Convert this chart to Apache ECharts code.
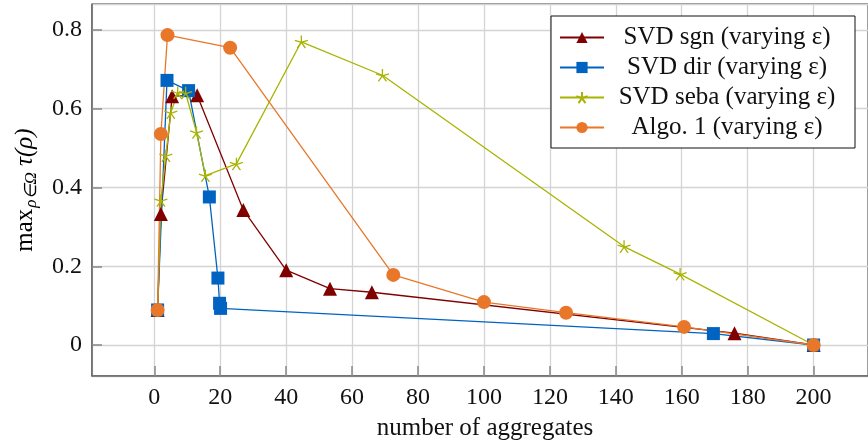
<!DOCTYPE html>
<html>
<head>
<meta charset="utf-8">
<script src="https://cdn.jsdelivr.net/npm/echarts@6/dist/echarts.min.js"></script>
<style>
  html, body { margin: 0; padding: 0; background: #fff; }
  #main { width: 868px; height: 441px; }
</style>
</head>
<body>
<div id="main"></div>
<script>
// values: [number of aggregates, max tau]
var sgnPoints = [[1, 0.089], [2, 0.333], [5.4, 0.632], [13, 0.634], [27, 0.343], [40, 0.19], [53.3, 0.143], [66, 0.134], [176, 0.03], [200, 0]];
var dirPoints = [[1, 0.089], [3.85, 0.672], [10.4, 0.646], [16.7, 0.376], [19.3, 0.17], [19.8, 0.106], [20.1, 0.093], [169.6, 0.029], [200, 0]];
var sebaPoints = [[1, 0.089], [2, 0.367], [3.5, 0.481], [5, 0.59], [7.1, 0.641], [9.5, 0.64], [12.8, 0.54], [15.5, 0.43], [24.9, 0.46], [44.6, 0.77], [69.2, 0.685], [142.5, 0.25], [159.5, 0.18], [200, 0]];
var algoPoints = [[1, 0.089], [2, 0.536], [4, 0.787], [23, 0.755], [72.5, 0.178], [100, 0.109], [124.9, 0.082], [160.7, 0.046], [200, 0]];
var seriesNames = ['SVD sgn (varying ε)', 'SVD dir (varying ε)', 'SVD seba (varying ε)', 'Algo. 1 (varying ε)'];

var serif = 'Liberation Serif';
var starPath = 'path://M0,0L0,-100M0,0L-95,-31M0,0L-59,81M0,0L59,81M0,0L95,-31';

var myChart = echarts.init(document.getElementById('main'));
var option = {
    animation: false,
    grid: {
        left: 92,
        top: 4,
        right: 0,
        bottom: 65,
        outerBoundsMode: 'none',
        show: true,
        borderColor: '#222',
        borderWidth: 1
    },
    xAxis: {
        type: 'value',
        min: -18.9,
        max: 216.5,
        splitNumber: 12,
        name: 'number of aggregates',
        nameLocation: 'middle',
        nameGap: 40,
        nameTextStyle: { fontFamily: serif, fontSize: 25, color: '#111', padding: [0, 0, 0, 10] },
        axisLine: { show: true, onZero: false, lineStyle: { color: '#666', width: 1.5 } },
        axisTick: { show: true, inside: true, length: 10, lineStyle: { color: '#888', width: 1.5 } },
        axisLabel: { showMinLabel: false, showMaxLabel: false, margin: 10, fontFamily: serif, fontSize: 24, color: '#111' },
        splitLine: { show: true, lineStyle: { color: '#d4d4d4', width: 1.3 } }
    },
    yAxis: {
        type: 'value',
        min: -0.0787,
        max: 0.866,
        splitNumber: 5,
        axisLine: { show: true, onZero: false, lineStyle: { color: '#666', width: 1.5 } },
        axisTick: { show: true, inside: true, length: 10, lineStyle: { color: '#888', width: 1.5 } },
        axisLabel: {
            showMinLabel: false, showMaxLabel: false, margin: 10,
            fontFamily: serif, fontSize: 24, color: '#111',
            formatter: function (v) { return v === 0 ? '0' : v.toFixed(1); }
        },
        splitLine: { show: true, lineStyle: { color: '#d4d4d4', width: 1.3 } }
    },
    legend: {
        orient: 'vertical',
        left: 551,
        top: 16,
        padding: [9, 10, 8, 8],
        itemGap: 5,
        itemWidth: 44,
        itemHeight: 14,
        backgroundColor: '#fff',
        borderColor: '#111',
        borderWidth: 1,
        data: seriesNames,
        formatter: function (name) { return '{a|' + name + '}'; },
        textStyle: {
            rich: {
                a: { width: 236, align: 'center', fontFamily: serif, fontSize: 25, lineHeight: 26, color: '#111' }
            }
        }
    },
    graphic: [{
        type: 'text',
        x: 25,
        y: 190,
        rotation: Math.PI / 2,
        style: {
            text: '{m|max}{s|ρ∈Ω}{t| τ(ρ)}',
            align: 'center',
            verticalAlign: 'middle',
            rich: {
                m: { fontFamily: serif, fontSize: 25, color: '#111' },
                s: { fontFamily: serif, fontSize: 17, fontStyle: 'italic', color: '#111', padding: [13, 0, 0, 1] },
                t: { fontFamily: serif, fontSize: 25, fontStyle: 'italic', color: '#111' }
            }
        }
    }],
    series: [
        {
            name: seriesNames[0], type: 'line', data: sgnPoints,
            symbol: 'triangle', symbolSize: 14,
            itemStyle: { color: '#800000' },
            lineStyle: { color: '#800000', width: 1.3 }
        },
        {
            name: seriesNames[1], type: 'line', data: dirPoints,
            symbol: 'rect', symbolSize: 13,
            itemStyle: { color: '#0063c2' },
            lineStyle: { color: '#0063c2', width: 1.3 }
        },
        {
            name: seriesNames[2], type: 'line', data: sebaPoints,
            symbol: starPath, symbolSize: 13, symbolKeepAspect: true,
            itemStyle: { color: 'rgba(0,0,0,0)', borderColor: '#a8b400', borderWidth: 1.3 },
            lineStyle: { color: '#a8b400', width: 1.3 }
        },
        {
            name: seriesNames[3], type: 'line', data: algoPoints,
            symbol: 'circle', symbolSize: 14,
            itemStyle: { color: '#e8772a' },
            lineStyle: { color: '#e8772a', width: 1.3 }
        }
    ]
};
myChart.setOption(option);
</script>
</body>
</html>
